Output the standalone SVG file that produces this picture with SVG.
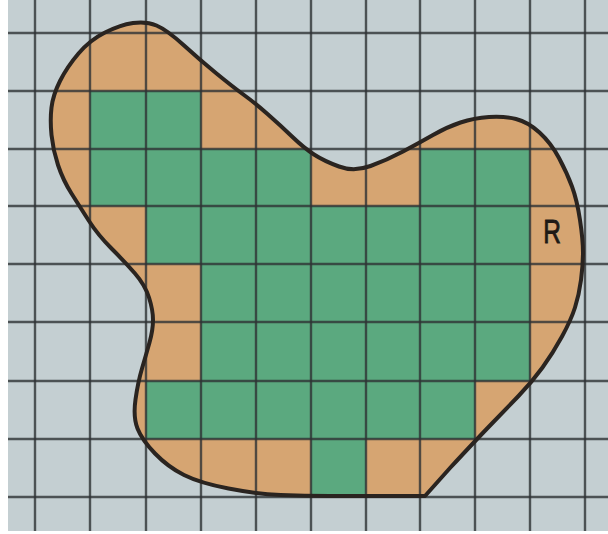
<svg xmlns="http://www.w3.org/2000/svg" width="608" height="534" viewBox="0 0 608 534">
  <style>
    .grid line { stroke: #2e3234; stroke-opacity: 0.8; stroke-width: 2.4; }
    .g { fill: #5ba97f; }
    .label { font-family: "Liberation Sans", Arial, sans-serif; font-size: 34px; fill: #1e1a16; stroke: #1e1a16; stroke-width: 0.9; }
  </style>
  <defs>
    <path id="blob" d="M425,496 L450,468 Q476,440 490.5,425 Q505,410 518.5,396 Q532,382 542.5,367.5 Q553,353 562,336.5 Q571,320 575,307.5 Q579,295 581,280 Q583,265 583,252.5 Q583,240 580,220 Q577,200 572,186.5 Q567,173 559,158 Q551,143 539.5,132.5 Q528,122 516,119 Q504,116 489,117 Q474,118 460.5,122.5 Q447,127 433,135 Q419,143 403,151.5 Q387,160 370.5,166 Q354,172 339,166.5 Q324,161 314,154.5 Q304,148 292,136.5 Q280,125 267.5,114 Q255,103 244,95 Q233,87 216.5,73.5 Q200,60 183.5,45 Q167,30 156.5,25.5 Q146,21 133,23 Q120,25 105,32.5 Q90,40 78.5,53.5 Q67,67 60,81 Q53,95 51.5,107.5 Q50,120 51.5,135 Q53,150 58,165 Q63,180 71.5,193.5 Q80,207 89,221 Q98,235 111.5,248.5 Q125,262 135,273.5 Q145,285 149,297.5 Q153,310 153,320 Q153,330 149.5,342.5 Q146,355 142,368.5 Q138,382 135.5,399.5 Q133,417 137.5,428.5 Q142,440 155,453.5 Q168,467 184,475 Q200,483 228.5,488.5 Q257,494 280.5,495 Q304,496 330,496 L425,496 Z"/>
  </defs>
  <rect x="0" y="0" width="608" height="534" fill="#ffffff"/>
  <rect id="paper" x="8" y="0" width="600" height="531" fill="#c4cfd2"/>
  <use id="region-fill" href="#blob" fill="#d6a572"/>
  <g id="inner-squares" class="g">
    <rect x="90" y="91" width="111" height="58"/>
    <rect x="90" y="149" width="221" height="57"/>
    <rect x="420" y="149" width="110" height="57"/>
    <rect x="146" y="206" width="384" height="58"/>
    <rect x="201" y="264" width="329" height="117"/>
    <rect x="146" y="381" width="329" height="58"/>
    <rect x="311" y="439" width="55" height="58"/>
  </g>
  <g id="grid" class="grid">
    <line x1="35" y1="0" x2="35" y2="531"/>
    <line x1="90" y1="0" x2="90" y2="531"/>
    <line x1="146" y1="0" x2="146" y2="531"/>
    <line x1="201" y1="0" x2="201" y2="531"/>
    <line x1="256" y1="0" x2="256" y2="531"/>
    <line x1="311" y1="0" x2="311" y2="531"/>
    <line x1="366" y1="0" x2="366" y2="531"/>
    <line x1="420" y1="0" x2="420" y2="531"/>
    <line x1="475" y1="0" x2="475" y2="531"/>
    <line x1="530" y1="0" x2="530" y2="531"/>
    <line x1="585" y1="0" x2="585" y2="531"/>
    <line x1="8" y1="33" x2="608" y2="33"/>
    <line x1="8" y1="91" x2="608" y2="91"/>
    <line x1="8" y1="149" x2="608" y2="149"/>
    <line x1="8" y1="206" x2="608" y2="206"/>
    <line x1="8" y1="264" x2="608" y2="264"/>
    <line x1="8" y1="322" x2="608" y2="322"/>
    <line x1="8" y1="381" x2="608" y2="381"/>
    <line x1="8" y1="439" x2="608" y2="439"/>
    <line x1="8" y1="497" x2="608" y2="497"/>
  </g>
  <use id="region-outline" href="#blob" fill="none" stroke="#2a2420" stroke-width="4" stroke-linejoin="round"/>
  <text class="label" transform="translate(552,243) scale(0.72,1)" text-anchor="middle">R</text>
</svg>
